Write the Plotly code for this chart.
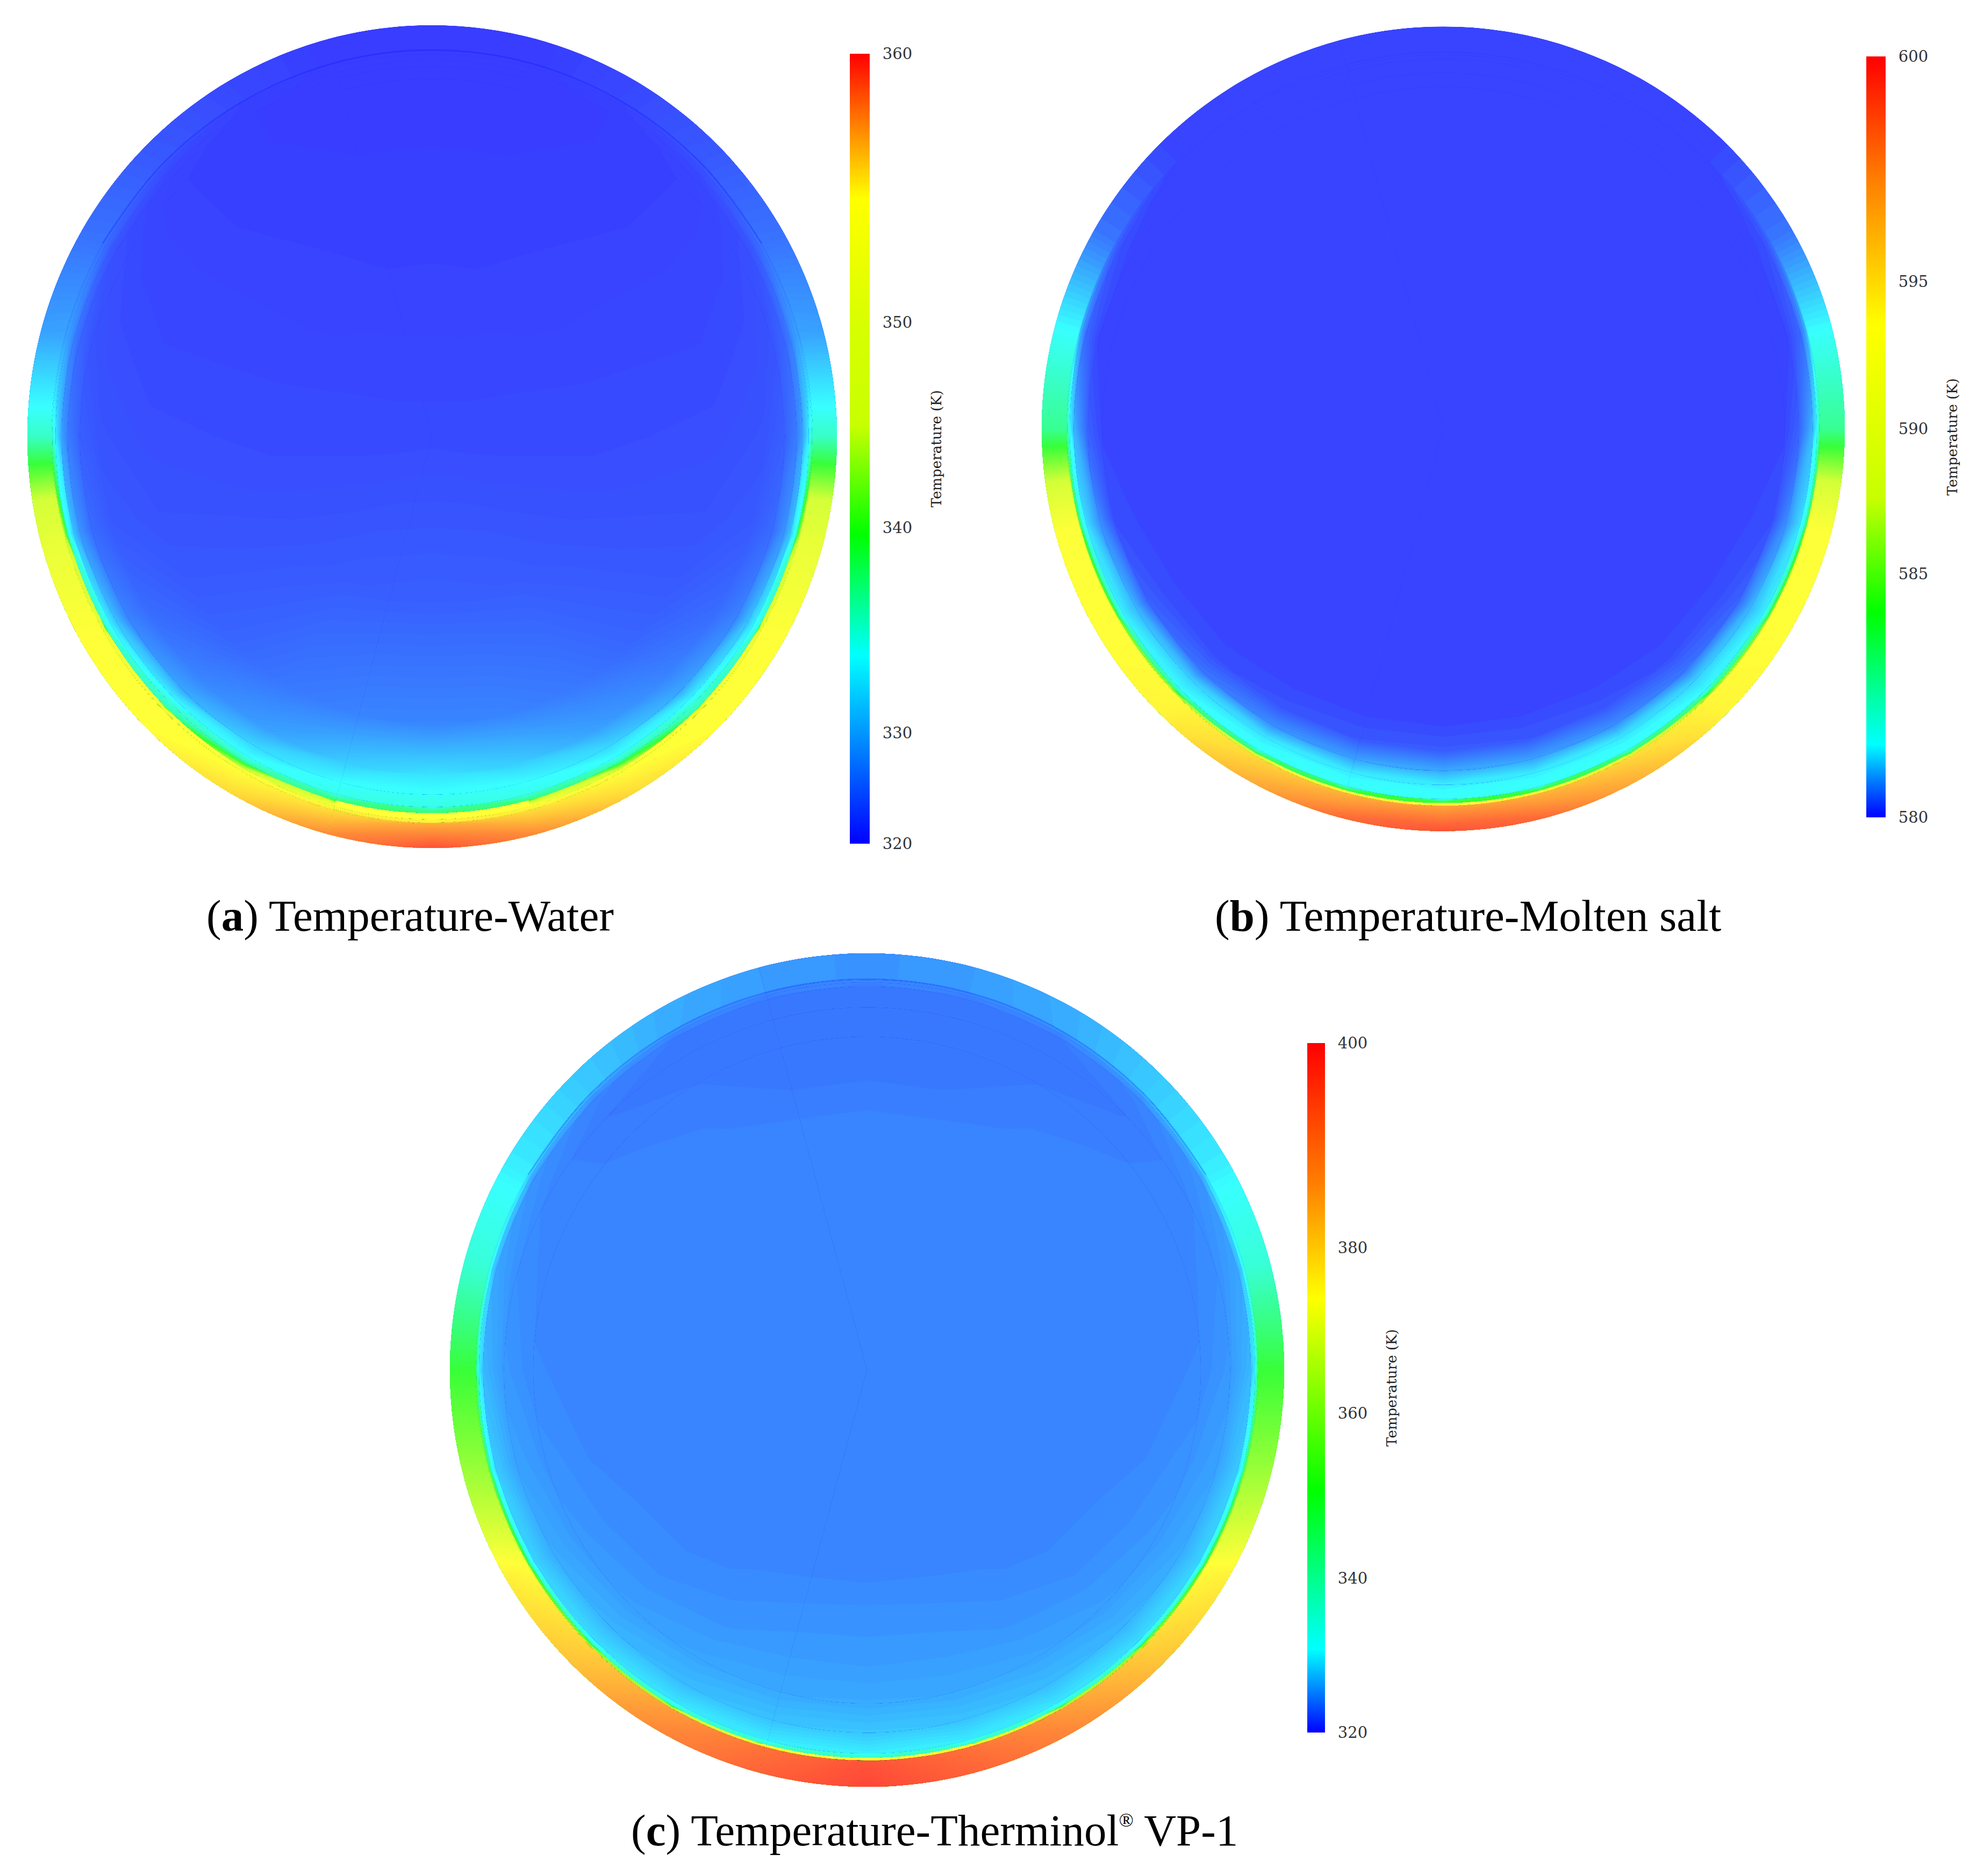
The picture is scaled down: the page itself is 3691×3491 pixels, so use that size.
import numpy as np
import plotly.graph_objects as go

# canvas size of the reference, the page keeps its default 8px body margin
W, H = 3691, 3491
PAGE_MARGIN = 8
FIG_W, FIG_H = W - 2 * PAGE_MARGIN, H - 2 * PAGE_MARGIN

# angle from the bottom of the pipe, one half only, the field is mirrored
half_angles = [0, 15, 30, 45, 60, 75, 90, 105, 120, 135, 150, 165, 180]

# Water: temperature (K), one row per radial station, one column per angle
water_r = [0, 0.4, 0.7, 0.82, 0.87, 0.90, 0.915, 0.93, 0.938, 0.94, 1.0]
water_T = [
    [321.7] * 13,
    [323.5, 323.4, 323.2, 322.8, 322.4, 322.0, 321.7, 321.6, 321.4, 321.2, 321.1, 321.0, 321.0],
    [326.8, 326.6, 325.6, 324.0, 323.0, 322.4, 322.0, 321.6, 321.4, 321.0, 320.8, 320.7, 320.7],
    [332.5, 331.5, 329.0, 326.5, 324.4, 323.0, 322.5, 322.0, 321.5, 321.0, 320.7, 320.6, 320.6],
    [334.0, 333.8, 332.0, 329.5, 326.5, 324.5, 323.5, 322.5, 321.8, 321.0, 320.7, 320.6, 320.6],
    [334.5, 334.4, 333.8, 333.2, 331.0, 328.0, 326.0, 324.0, 322.0, 321.2, 320.7, 320.6, 320.6],
    [338.0, 337.5, 336.0, 335.0, 333.0, 331.0, 329.0, 326.0, 323.0, 321.5, 320.8, 320.6, 320.6],
    [354.6, 354.6, 345.0, 336.0, 335.0, 335.0, 333.0, 329.0, 324.5, 322.0, 320.9, 320.6, 320.6],
    [355.0, 355.0, 354.6, 354.0, 352.0, 344.0, 335.5, 329.0, 325.0, 322.6, 320.9, 320.5, 320.5],
    [356.8, 355.5, 354.6, 354.4, 354.4, 351.0, 335.5, 329.5, 325.2, 323.0, 321.6, 320.5, 320.5],
    [359.3, 357.8, 355.6, 354.6, 354.6, 351.0, 335.5, 329.0, 325.0, 322.8, 321.5, 320.5, 320.5],
]
water_ticks = [320, 330, 340, 350, 360]
water_tick_pos = [0, 0.14, 0.40, 0.66, 1]
water_stop_pos = [0, 0.12, 0.238, 0.392, 0.53, 0.66, 0.817, 0.91, 1]
water_stop_col = [(0, 0, 255), (0, 128, 255), (0, 255, 255), (0, 255, 0), (200, 255, 0),
                  (216, 255, 0), (255, 255, 0), (255, 128, 0), (255, 0, 0)]

# Molten salt
salt_r = [0, 0.66, 0.74, 0.80, 0.85, 0.885, 0.92, 0.93, 0.936, 0.938, 1.0]
salt_T = [
    [580.1] * 13,
    [580.1] * 13,
    [580.15, 580.15, 580.14, 580.12, 580.12, 580.11, 580.1, 580.1, 580.1, 580.1, 580.1, 580.1, 580.1],
    [580.3, 580.28, 580.25, 580.2, 580.18, 580.15, 580.13, 580.1, 580.1, 580.1, 580.1, 580.1, 580.1],
    [580.9, 580.85, 580.7, 580.5, 580.35, 580.2, 580.14, 580.1, 580.1, 580.1, 580.1, 580.1, 580.1],
    [581.4, 581.4, 581.35, 581.2, 581.0, 580.7, 580.35, 580.12, 580.1, 580.1, 580.1, 580.1, 580.1],
    [581.6, 581.6, 581.6, 581.5, 581.4, 581.3, 581.0, 580.4, 580.2, 580.1, 580.1, 580.1, 580.1],
    [584.2, 584.2, 583.5, 583.0, 582.5, 582.0, 581.5, 580.8, 580.3, 580.1, 580.1, 580.1, 580.1],
    [593.5, 593.5, 590.0, 586.0, 585.0, 584.0, 582.5, 581.0, 580.4, 580.1, 580.1, 580.1, 580.1],
    [597.0, 596.5, 595.2, 593.8, 593.5, 593.2, 583.0, 581.5, 580.5, 580.15, 580.1, 580.1, 580.1],
    [599.3, 598.6, 596.5, 594.0, 593.5, 593.2, 583.0, 581.5, 580.5, 580.15, 580.1, 580.1, 580.1],
]
salt_ticks = [580, 585, 590, 595, 600]
salt_tick_pos = [0, 0.32, 0.511, 0.704, 1]
salt_stop_pos = [0, 0.05, 0.096, 0.27, 0.42, 0.647, 0.836, 1]
salt_stop_col = [(0, 0, 255), (0, 128, 255), (0, 255, 255), (0, 255, 0), (200, 255, 0),
                 (255, 255, 0), (255, 128, 0), (255, 0, 0)]

# Therminol VP-1
vp1_r = [0, 0.49, 0.58, 0.70, 0.80, 0.87, 0.92, 0.93, 0.936, 0.938, 1.0]
vp1_T = [
    [324.3] * 13,
    [324.3] * 13,
    [324.9, 324.8, 324.5, 324.3, 324.3, 324.3, 324.3, 324.3, 324.3, 324.3, 324.3, 324.3, 324.3],
    [325.4, 325.4, 325.1, 324.8, 324.6, 324.4, 324.3, 324.3, 324.3, 324.3, 324.0, 323.7, 323.7],
    [326.3, 326.2, 326.0, 325.6, 325.3, 325.0, 324.5, 324.3, 324.3, 323.9, 323.7, 323.7, 323.7],
    [327.8, 327.6, 327.2, 326.8, 326.3, 325.8, 325.3, 324.8, 324.3, 323.7, 323.7, 323.7, 323.7],
    [330.0, 329.9, 329.5, 329.0, 328.5, 328.0, 327.0, 326.0, 325.0, 324.2, 323.7, 323.7, 323.7],
    [336.0, 336.0, 335.0, 335.0, 334.0, 332.0, 330.0, 328.5, 327.0, 325.5, 324.5, 324.1, 324.1],
    [374.0, 374.0, 368.0, 360.0, 352.0, 345.0, 340.0, 332.0, 329.0, 326.5, 325.0, 324.4, 324.4],
    [396.0, 392.0, 386.0, 380.0, 374.0, 362.0, 350.5, 335.0, 330.0, 328.0, 326.3, 325.5, 325.0],
    [398.0, 394.0, 389.0, 382.0, 376.0, 363.0, 350.5, 335.0, 330.0, 328.0, 326.5, 325.5, 325.0],
]
vp1_ticks = [320, 340, 360, 380, 400]
vp1_tick_pos = [0, 0.224, 0.463, 0.703, 1]
vp1_stop_pos = [0, 0.06, 0.121, 0.35, 0.63, 0.795, 1]
vp1_stop_col = [(0, 0, 255), (0, 128, 255), (0, 255, 255), (0, 255, 0),
                (255, 255, 0), (255, 128, 0), (255, 0, 0)]

captions = ["(<b>a</b>) Temperature-Water",
            "(<b>b</b>) Temperature-Molten salt",
            "(<b>c</b>) Temperature-Therminol<sup><span style='font-size:36px'>®</span></sup> VP-1"]

# upper arc of the thin dark line at the inner wall (a and c only)
wall_line_angles = [120, 135, 150, 165, 180, 195, 210, 225, 240]

# how many radial stations each nested disc uses, biggest first, so thin wall layers stay round
layer_rows = [11, 10, 9, 8, 7, 6, 5]

panels = [
    dict(r=water_r, T=water_T, ticks=water_ticks, tick_pos=water_tick_pos,
         stop_pos=water_stop_pos, stop_col=water_stop_col, wall_line=0.94,
         cx=804, cy=812.5, rx=753, ry=765.5, bar=(1581, 1618, 100, 1570), cap=(763, 1704)),
    dict(r=salt_r, T=salt_T, ticks=salt_ticks, tick_pos=salt_tick_pos,
         stop_pos=salt_stop_pos, stop_col=salt_stop_col, wall_line=None,
         cx=2685, cy=798, rx=747, ry=748.5, bar=(3472, 3508, 105, 1521), cap=(2731, 1704)),
    dict(r=vp1_r, T=vp1_T, ticks=vp1_ticks, tick_pos=vp1_tick_pos,
         stop_pos=vp1_stop_pos, stop_col=vp1_stop_col, wall_line=0.938,
         cx=1613, cy=2549.5, rx=776, ry=775.5, bar=(2432, 2465, 1941, 3224), cap=(1738, 3406)),
]


def rgb(c, fade=0.0):
    # the rendered field sits under a white veil, the colour bars do not
    return "rgb(%d,%d,%d)" % tuple(round(v * (1 - fade) + 255 * fade) for v in c)


def fx(px):
    return (px - PAGE_MARGIN) / FIG_W


def fy(px):
    return 1 - (px - PAGE_MARGIN) / FIG_H


fig = go.Figure()
layout = {}

for i, p in enumerate(panels):
    k = 2 * i + 1
    xa, ya = f"x{k}", f"y{k}"
    xb, yb = f"x{k + 1}", f"y{k + 1}"

    # each half disc runs one step past both ends, with mirrored values, so the halves overlap
    half = np.array(p["T"]).T
    full = np.vstack([half[1], half, half[-2]])
    theta = [-half_angles[1]] + half_angles + [360 - half_angles[-2]]
    # contour in colour-bar position because the bar's scale is not linear
    z = np.interp(full, p["ticks"], p["tick_pos"])

    th = np.radians(theta)
    rr = np.array(p["r"])
    x = np.outer(np.sin(th), rr)
    y = -np.outer(np.cos(th), rr)

    field_scale = [[s, rgb(c, 0.22)] for s, c in zip(p["stop_pos"], p["stop_col"])]
    bar_scale = [[s, rgb(c)] for s, c in zip(p["stop_pos"], p["stop_col"])]

    hidden = dict(startline=False, endline=False, showgrid=False, showline=False,
                  showticklabels="none", minorgridcount=0, gridwidth=0)
    for n in layer_rows:
        for side, sign in (("left", -1), ("right", 1)):
            cid = f"disc{i}_{n}_{side}"
            fig.add_trace(go.Carpet(carpet=cid, a=p["r"][:n], b=theta,
                                    x=(sign * x[:, :n]).tolist(), y=y[:, :n].tolist(),
                                    aaxis=dict(smoothing=0, **hidden),
                                    baxis=dict(smoothing=1, **hidden),
                                    xaxis=xa, yaxis=ya))
            fig.add_trace(go.Contourcarpet(carpet=cid, a=p["r"][:n], b=theta, z=z[:, :n].tolist(),
                                           colorscale=field_scale, zmin=0, zmax=1, showscale=False,
                                           autocontour=False,
                                           contours=dict(start=0.0017, end=1, size=0.004, coloring="fill",
                                                         showlines=False),
                                           line=dict(width=0, smoothing=0),
                                           xaxis=xa, yaxis=ya))
    if p["wall_line"]:
        arc = np.radians(wall_line_angles)
        fig.add_trace(go.Scatter(x=p["wall_line"] * np.sin(arc), y=-p["wall_line"] * np.cos(arc),
                                 mode="lines", line=dict(color="rgba(0,0,255,0.2)", width=2.5, shape="spline"),
                                 hoverinfo="skip", xaxis=xa, yaxis=ya))

    bar_y = p["stop_pos"]
    fig.add_trace(go.Heatmap(x=[0, 1], y=bar_y, z=[[s, s] for s in bar_y],
                             colorscale=bar_scale, zmin=0, zmax=1, zsmooth="best",
                             showscale=False, xaxis=xb, yaxis=yb))

    off = dict(visible=False, range=[-1, 1], fixedrange=True)
    layout[f"xaxis{k}"] = dict(off, domain=[fx(p["cx"] - p["rx"]), fx(p["cx"] + p["rx"])], anchor=ya)
    layout[f"yaxis{k}"] = dict(off, domain=[fy(p["cy"] + p["ry"]), fy(p["cy"] - p["ry"])], anchor=xa)

    x0, x1, y0, y1 = p["bar"]
    layout[f"xaxis{k + 1}"] = dict(visible=False, range=[0, 1], domain=[fx(x0), fx(x1)], anchor=yb)
    layout[f"yaxis{k + 1}"] = dict(range=[0, 1], domain=[fy(y1), fy(y0)], anchor=xb, side="right",
                                   showgrid=False, zeroline=False, showline=False,
                                   tickmode="array", tickvals=p["tick_pos"],
                                   ticktext=[str(v) for v in p["ticks"]],
                                   ticks="outside", ticklen=17, tickcolor="rgba(0,0,0,0)",
                                   tickfont=dict(family="DejaVu Serif", size=29, color="#333333"),
                                   title=dict(text="Temperature (K)", standoff=36,
                                              font=dict(family="DejaVu Serif", size=26, color="#222222")))

annotations = []
for text, p in zip(captions, panels):
    annotations.append(dict(text=text, x=fx(p["cap"][0]), y=fy(p["cap"][1]),
                            xref="paper", yref="paper", showarrow=False,
                            xanchor="center", yanchor="middle",
                            font=dict(family="Liberation Serif", size=83, color="black")))

fig.update_layout(width=FIG_W, height=FIG_H,
                  margin=dict(l=0, r=0, t=0, b=0, autoexpand=False),
                  paper_bgcolor="white", plot_bgcolor="white", showlegend=False,
                  annotations=annotations, **layout)

fig.write_html("out.html")
